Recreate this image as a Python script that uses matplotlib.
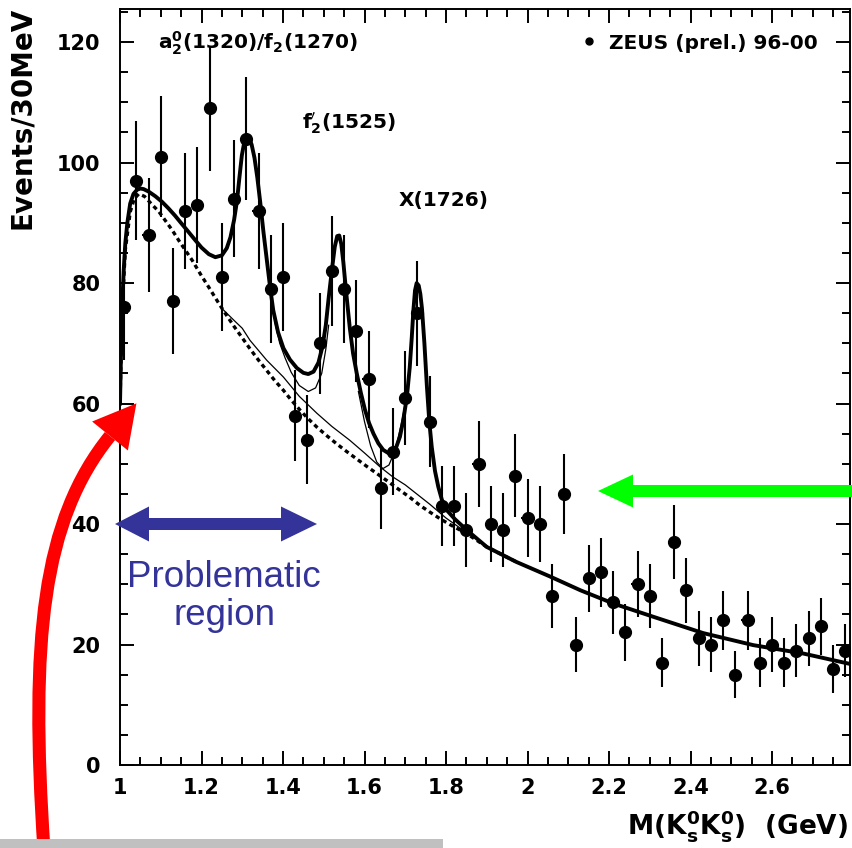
import numpy as np
import matplotlib
matplotlib.use("Agg")
import matplotlib.pyplot as plt
from matplotlib.ticker import MultipleLocator, FuncFormatter
from matplotlib.patches import Polygon, PathPatch, Rectangle
from matplotlib.path import Path
from matplotlib.lines import Line2D

plt.rcParams['font.family'] = ['DejaVu Sans']
plt.rcParams['mathtext.fontset'] = 'dejavusans'
plt.rcParams['mathtext.default'] = 'bf'

# ---------------- data ----------------
mass = [1.01, 1.04, 1.07, 1.10, 1.13, 1.16, 1.19, 1.22, 1.25, 1.28,
        1.31, 1.34, 1.37, 1.40, 1.43, 1.46, 1.49, 1.52, 1.55, 1.58,
        1.61, 1.64, 1.67, 1.70, 1.73, 1.76, 1.79, 1.82, 1.85, 1.88,
        1.91, 1.94, 1.97, 2.00, 2.03, 2.06, 2.09, 2.12, 2.15, 2.18,
        2.21, 2.24, 2.27, 2.30, 2.33, 2.36, 2.39, 2.42, 2.45, 2.48,
        2.51, 2.54, 2.57, 2.60, 2.63, 2.66, 2.69, 2.72, 2.75, 2.78]
events = [76, 97, 88, 101, 77, 92, 93, 109, 81, 94,
          104, 92, 79, 81, 58, 54, 70, 82, 79, 72,
          64, 46, 52, 61, 75, 57, 43, 43, 39, 50,
          40, 39, 48, 41, 40, 28, 45, 20, 31, 32,
          27, 22, 30, 28, 17, 37, 29, 21, 20, 24,
          15, 24, 17, 20, 17, 19, 21, 23, 16, 19]
errors = [8.7, 9.9, 9.4, 10.1, 8.8, 9.6, 9.6, 10.4, 9.0, 9.7,
          10.2, 9.6, 8.9, 9.0, 7.6, 7.4, 8.4, 9.1, 8.9, 8.5,
          8.0, 6.8, 7.2, 7.8, 8.7, 7.6, 6.6, 6.6, 6.2, 7.1,
          6.3, 6.2, 6.9, 6.4, 6.3, 5.3, 6.7, 4.5, 5.6, 5.7,
          5.2, 4.7, 5.5, 5.3, 4.1, 6.1, 5.4, 4.6, 4.5, 4.9,
          3.9, 4.9, 4.1, 4.5, 4.1, 4.4, 4.6, 4.8, 4.0, 4.4]
bin_half_width = 0.015

# total fit curve (thick solid)
fit_x = [1.000, 1.003, 1.005, 1.009, 1.013, 1.018, 1.025, 1.033, 1.042, 1.050,
         1.058, 1.070, 1.087, 1.103, 1.119, 1.135, 1.152, 1.168, 1.185, 1.200,
         1.218, 1.234, 1.250, 1.262, 1.271, 1.280, 1.287, 1.293, 1.299, 1.305,
         1.311, 1.317, 1.323, 1.330, 1.337, 1.344, 1.352, 1.360, 1.368, 1.376,
         1.388, 1.401, 1.417, 1.434, 1.450, 1.462, 1.475, 1.487, 1.497, 1.505,
         1.512, 1.520, 1.527, 1.533, 1.538, 1.543, 1.548, 1.555, 1.564, 1.572,
         1.581, 1.591, 1.601, 1.611, 1.622, 1.634, 1.646, 1.658, 1.667, 1.677,
         1.687, 1.695, 1.704, 1.711, 1.716, 1.720, 1.724, 1.728, 1.733, 1.737,
         1.741, 1.747, 1.753, 1.759, 1.765, 1.773, 1.781, 1.790, 1.802, 1.822,
         1.851, 1.900, 1.973, 2.055, 2.130, 2.211, 2.309, 2.431, 2.554, 2.677, 2.790]
fit_y = [60.0, 70.0, 75.5, 82.0, 86.6, 90.0, 93.2, 94.8, 95.5, 95.7,
         95.6, 95.2, 94.4, 93.5, 92.4, 91.2, 89.8, 88.5, 87.1, 85.9,
         84.8, 84.3, 84.6, 85.8, 87.6, 90.5, 93.6, 97.5, 101.2, 103.4,
         104.2, 104.0, 103.0, 100.8, 97.5, 93.5, 88.5, 84.0, 79.5, 75.5,
         71.8, 69.2, 67.3, 65.9, 65.1, 64.9, 65.3, 66.8, 69.5, 73.0,
         77.5, 82.2, 86.0, 87.8, 87.9, 86.5, 83.5, 78.5, 72.5, 68.3,
         65.0, 61.8, 59.0, 56.8, 55.0, 53.4, 52.3, 51.8, 51.8, 52.6,
         54.5, 57.2, 61.1, 66.0, 71.0, 75.5, 78.8, 80.0, 79.6, 78.2,
         75.8, 70.0, 63.0, 57.0, 52.8, 48.8, 46.2, 44.0, 42.3, 40.8,
         39.0, 36.2, 33.7, 31.3, 29.0, 26.8, 24.6, 21.9, 19.9, 18.5, 16.8]

# background (thick dashed)
bg_x = [1.000, 1.005, 1.013, 1.025, 1.035, 1.046, 1.060, 1.079, 1.095, 1.111,
        1.128, 1.144, 1.160, 1.177, 1.200, 1.218, 1.240, 1.258, 1.280, 1.299,
        1.320, 1.340, 1.360, 1.380, 1.401, 1.420, 1.442, 1.460, 1.483, 1.505,
        1.532, 1.555, 1.581, 1.605, 1.630, 1.655, 1.687, 1.710, 1.736, 1.760,
        1.785, 1.810, 1.851, 1.900, 1.973]
bg_y = [60.0, 75.0, 85.5, 91.8, 94.0, 94.8, 94.4, 93.0, 91.9, 90.4,
        88.8, 87.1, 85.5, 83.8, 81.2, 79.3, 76.9, 75.0, 72.8, 71.0,
        69.0, 67.2, 65.5, 63.8, 62.2, 60.6, 58.9, 57.6, 56.1, 54.8,
        53.3, 52.1, 50.8, 49.6, 48.4, 47.2, 45.6, 44.5, 43.1, 42.0,
        40.9, 39.9, 38.4, 36.2, 33.7]

# thin component curves
thinA_x = [1.250, 1.280, 1.300, 1.319, 1.360, 1.401, 1.440, 1.483, 1.520, 1.564,
           1.600, 1.638, 1.670, 1.700, 1.730, 1.760, 1.800, 1.850]
thinA_y = [75.8, 73.8, 72.5, 70.5, 67.2, 64.4, 61.2, 58.4, 56.2, 53.9,
           51.8, 49.5, 47.8, 46.5, 44.9, 43.3, 41.0, 38.6]
thinB_x = [1.380, 1.392, 1.405, 1.420, 1.440, 1.462, 1.480, 1.495, 1.505, 1.512]
thinB_y = [73.5, 70.0, 67.6, 65.2, 63.0, 62.0, 62.6, 65.0, 69.0, 73.0]
thinC_x = [1.585, 1.600, 1.615, 1.630, 1.645, 1.660, 1.675, 1.690, 1.700]
thinC_y = [62.0, 57.0, 53.0, 50.3, 49.2, 49.8, 52.2, 56.5, 60.0]

xtick_values = [1.0, 1.2, 1.4, 1.6, 1.8, 2.0, 2.2, 2.4, 2.6]
ytick_values = [0, 20, 40, 60, 80, 100, 120]

# ---------------- figure ----------------
W, H = 852, 848
fig = plt.figure(figsize=(W / 100, H / 100), dpi=100)
fig.patch.set_facecolor('white')

def fx(px):
    return px / W

def fy(py):
    return 1 - py / H

ax = fig.add_axes([fx(120), fy(765), (850 - 120) / W, (765 - 9) / H])
ax.set_xlim(1.0, 2.7914)
ax.set_ylim(0, 125.5)

ax.plot(bg_x, bg_y, color='black', lw=2.4, ls=(0, (1.3, 1.1)), zorder=2)
ax.plot(thinA_x, thinA_y, color='black', lw=0.9, zorder=2)
ax.plot(thinB_x, thinB_y, color='black', lw=0.9, zorder=2)
ax.plot(thinC_x, thinC_y, color='black', lw=0.9, zorder=2)
ax.plot(fit_x, fit_y, color='black', lw=2.8, zorder=3, solid_joinstyle='round')

ax.errorbar(mass, events, yerr=errors, xerr=bin_half_width, fmt='o',
            color='black', ms=8.5, elinewidth=1.5, capsize=0, zorder=4)

# ticks
ax.set_xticks(xtick_values)
ax.xaxis.set_major_formatter(FuncFormatter(lambda v, p: '%g' % v))
ax.xaxis.set_minor_locator(MultipleLocator(0.05))
ax.set_yticks(ytick_values)
ax.yaxis.set_minor_locator(MultipleLocator(5))
ax.tick_params(which='both', direction='in', top=True, right=True, width=1.4)
ax.tick_params(which='major', length=10)
ax.tick_params(which='minor', length=6)
ax.tick_params(axis='y', which='major', pad=14, labelsize=15)
ax.tick_params(axis='x', which='major', pad=9, labelsize=15)
for lab in ax.get_xticklabels() + ax.get_yticklabels():
    lab.set_fontweight('bold')
for s in ax.spines.values():
    s.set_linewidth(1.4)

# labels
fig.text(fx(22), fy(118), 'Events/30MeV', rotation=90, ha='center', va='center',
         fontsize=20, fontweight='bold')
fig.text(fx(848), fy(826), r'$M(K^0_sK^0_s)$  (GeV)', ha='right', va='center',
         fontsize=19, fontweight='bold')

# annotations inside the plot
ax.text(0.052, 0.955, r'$a^0_2$(1320)/f$_2$(1270)', transform=ax.transAxes,
        fontsize=14.5, fontweight='bold', ha='left', va='center')
ax.text(0.249, 0.849, r"f$_2^{\prime}$(1525)", transform=ax.transAxes,
        fontsize=14.5, fontweight='bold', ha='left', va='center')
ax.text(0.381, 0.747, 'X(1726)', transform=ax.transAxes,
        fontsize=14.5, fontweight='bold', ha='left', va='center')

proxy = Line2D([], [], marker='o', color='black', ls='none', ms=5)
leg = ax.legend([proxy], ['ZEUS (prel.) 96-00'], loc='center left',
                bbox_to_anchor=(0.606, 0.955), frameon=False, handlelength=0.8,
                handletextpad=0.6, prop={'weight': 'bold', 'size': 14.5})

# ---------------- overlays ----------------
blue = '#333399'
blue_pts = [(115, 524), (149, 506.5), (149, 518), (281, 518), (281, 506.5), (317, 524),
            (281, 541.5), (281, 530), (149, 530), (149, 541.5)]
fig.patches.append(Polygon([(fx(a), fy(b)) for a, b in blue_pts], closed=True,
                           transform=fig.transFigure, facecolor=blue, edgecolor='none',
                           zorder=10))
fig.text(fx(224), fy(625), 'Problematic\nregion', ha='center', va='baseline',
         color=blue, fontsize=26.5, family='Liberation Sans', linespacing=1.1,
         zorder=10)

green_pts = [(598, 491), (633, 474.5), (633, 485), (852, 485), (852, 497), (633, 497),
             (633, 507.5)]
fig.patches.append(Polygon([(fx(a), fy(b)) for a, b in green_pts], closed=True,
                           transform=fig.transFigure, facecolor='#00ff00',
                           edgecolor='none', zorder=10))

red = '#ff0000'
shaft = Path([(fx(44), fy(850)), (fx(30), fy(640)), (fx(42), fy(520)), (fx(110), fy(436))],
             [Path.MOVETO, Path.CURVE4, Path.CURVE4, Path.CURVE4])
fig.patches.append(PathPatch(shaft, transform=fig.transFigure, facecolor='none',
                             edgecolor=red, lw=9.4, capstyle='butt', zorder=10))
d = np.array([110 - 42, 436 - 520], dtype=float)
d /= np.hypot(*d)
perp = np.array([-d[1], d[0]])
base = np.array([110.0, 436.0])
tip = base + 42 * d
c1 = base + 23 * perp
c2 = base - 23 * perp
fig.patches.append(Polygon([(fx(p[0]), fy(p[1])) for p in (tip, c1, c2)], closed=True,
                           transform=fig.transFigure, facecolor=red, edgecolor='none',
                           zorder=10))

fig.patches.append(Rectangle((0, 0), fx(443), 9 / H, transform=fig.transFigure,
                             facecolor='#c0c0c0', edgecolor='none', zorder=11))

fig.savefig('out.png', dpi=100)
